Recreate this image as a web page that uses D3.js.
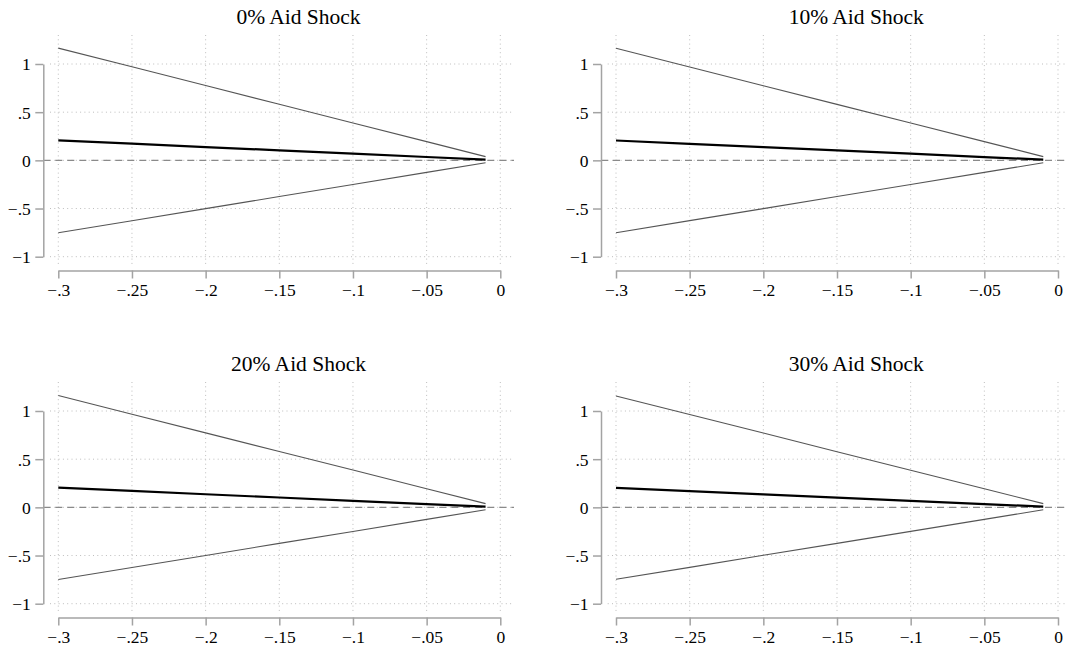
<!DOCTYPE html>
<html>
<head>
<meta charset="utf-8">
<script src="https://cdn.jsdelivr.net/npm/d3@7"></script>
<style>
  html, body { margin: 0; padding: 0; background: #ffffff; }
  svg { display: block; }
</style>
</head>
<body>
<svg id="chart" width="1066" height="650" font-family="Liberation Serif, Times New Roman, Times, DejaVu Serif, serif"></svg>
<script>
// Panel titles, one per aid-shock scenario
const shockTitles = ["0% Aid Shock", "10% Aid Shock", "20% Aid Shock", "30% Aid Shock"];

// Axis ticks and their labels
const xTicks = [-0.3, -0.25, -0.2, -0.15, -0.1, -0.05, 0];
const xTickLabels = ["\u2212.3", "\u2212.25", "\u2212.2", "\u2212.15", "\u2212.1", "\u2212.05", "0"];
const yTicks = [-1, -0.5, 0, 0.5, 1];
const yTickLabels = ["\u22121", "\u2212.5", "0", ".5", "1"];

// Shock sizes on the horizontal axis
const xValues = [-0.3, -0.25, -0.2, -0.15, -0.1, -0.05, -0.01];

// Point estimates and confidence bounds per scenario
const estimate0 = [0.207, 0.173, 0.138, 0.104, 0.069, 0.035, 0.007];
const upper0    = [1.165, 0.971, 0.777, 0.582, 0.388, 0.194, 0.039];
const lower0    = [-0.752, -0.627, -0.501, -0.376, -0.251, -0.125, -0.025];

const estimate10 = [0.206, 0.172, 0.137, 0.103, 0.069, 0.034, 0.007];
const upper10    = [1.163, 0.969, 0.775, 0.581, 0.388, 0.194, 0.039];
const lower10    = [-0.751, -0.626, -0.501, -0.375, -0.250, -0.125, -0.025];

const estimate20 = [0.204, 0.170, 0.136, 0.102, 0.068, 0.034, 0.007];
const upper20    = [1.160, 0.967, 0.773, 0.580, 0.387, 0.193, 0.039];
const lower20    = [-0.749, -0.624, -0.499, -0.374, -0.250, -0.125, -0.025];

const estimate30 = [0.202, 0.168, 0.135, 0.101, 0.067, 0.034, 0.007];
const upper30    = [1.156, 0.963, 0.771, 0.578, 0.385, 0.193, 0.039];
const lower30    = [-0.747, -0.623, -0.498, -0.374, -0.249, -0.125, -0.025];

const panels = [
  { title: shockTitles[0], est: estimate0,  hi: upper0,  lo: lower0,  col: 0, row: 0 },
  { title: shockTitles[1], est: estimate10, hi: upper10, lo: lower10, col: 1, row: 0 },
  { title: shockTitles[2], est: estimate20, hi: upper20, lo: lower20, col: 0, row: 1 },
  { title: shockTitles[3], est: estimate30, hi: upper30, lo: lower30, col: 1, row: 1 }
];

const serif = "Liberation Serif, Times New Roman, Times, DejaVu Serif, serif";
const svg = d3.select("#chart");

// Shared geometry of one panel (local coordinates)
const colStep = 557.7, rowStep = 347;
const x = d3.scaleLinear().domain([-0.3, 0]).range([58.3, 500.3]);
const y = d3.scaleLinear().domain([-1, 1]).range([256.7, 64]);
const gridLeft = 50, gridRight = 514, gridTop = 35, gridBottom = 265;
const yAxisX = 43.3, xAxisY = 270.5;

const axisGray = "#a3a3a3";
const gridGray = "#bdbdbd";

const line = d3.line().x(d => x(d[0])).y(d => y(d[1]));

panels.forEach(p => {
  const g = svg.append("g")
    .attr("transform", `translate(${p.col * colStep},${p.row * rowStep})`);

  // Title
  g.append("text")
    .attr("x", 298.5).attr("y", 24)
    .attr("text-anchor", "middle")
    .attr("font-family", serif)
    .attr("font-size", 21.5)
    .attr("fill", "#000")
    .text(p.title);

  // Dotted grid
  g.append("g").selectAll("line").data(yTicks).join("line")
    .attr("x1", gridLeft).attr("x2", gridRight)
    .attr("y1", d => y(d)).attr("y2", d => y(d))
    .attr("stroke", gridGray).attr("stroke-width", 1)
    .attr("stroke-dasharray", "1,3.3");
  g.append("g").selectAll("line").data(xTicks).join("line")
    .attr("x1", d => x(d)).attr("x2", d => x(d))
    .attr("y1", gridTop).attr("y2", gridBottom)
    .attr("stroke", gridGray).attr("stroke-width", 1)
    .attr("stroke-dasharray", "1,3.3");

  // Zero reference line
  g.append("line")
    .attr("x1", yAxisX).attr("x2", gridRight)
    .attr("y1", y(0)).attr("y2", y(0))
    .attr("stroke", "#8a8a8a").attr("stroke-width", 1.3)
    .attr("stroke-dasharray", "7,5");

  // Y axis
  const yAxis = d3.axisLeft(y)
    .tickValues(yTicks)
    .tickFormat((d, i) => yTickLabels[i])
    .tickSize(8).tickSizeOuter(0).tickPadding(4.5);
  const ya = g.append("g").attr("transform", `translate(${yAxisX},0)`).call(yAxis)
    .attr("font-family", serif).attr("font-size", 17.5);
  ya.select(".domain").attr("stroke", axisGray).attr("stroke-width", 1.5);
  ya.selectAll(".tick line").attr("stroke", axisGray).attr("stroke-width", 1.5);
  ya.selectAll(".tick text").attr("fill", "#000").attr("dy", "0.34em");

  // X axis
  const xAxis = d3.axisBottom(x)
    .tickValues(xTicks)
    .tickFormat((d, i) => xTickLabels[i])
    .tickSize(8).tickSizeOuter(0).tickPadding(5);
  const xa = g.append("g").attr("transform", `translate(0,${xAxisY})`).call(xAxis)
    .attr("font-family", serif).attr("font-size", 17.5);
  xa.select(".domain").attr("stroke", axisGray).attr("stroke-width", 1.5);
  xa.selectAll(".tick line").attr("stroke", axisGray).attr("stroke-width", 1.5);
  xa.selectAll(".tick text").attr("fill", "#000");

  // Confidence bounds
  [p.hi, p.lo].forEach(vals => {
    g.append("path")
      .datum(xValues.map((v, i) => [v, vals[i]]))
      .attr("d", line)
      .attr("fill", "none")
      .attr("stroke", "#555555")
      .attr("stroke-width", 1.1);
  });

  // Point estimate
  g.append("path")
    .datum(xValues.map((v, i) => [v, p.est[i]]))
    .attr("d", line)
    .attr("fill", "none")
    .attr("stroke", "#000000")
    .attr("stroke-width", 2.2);
});
</script>
</body>
</html>
